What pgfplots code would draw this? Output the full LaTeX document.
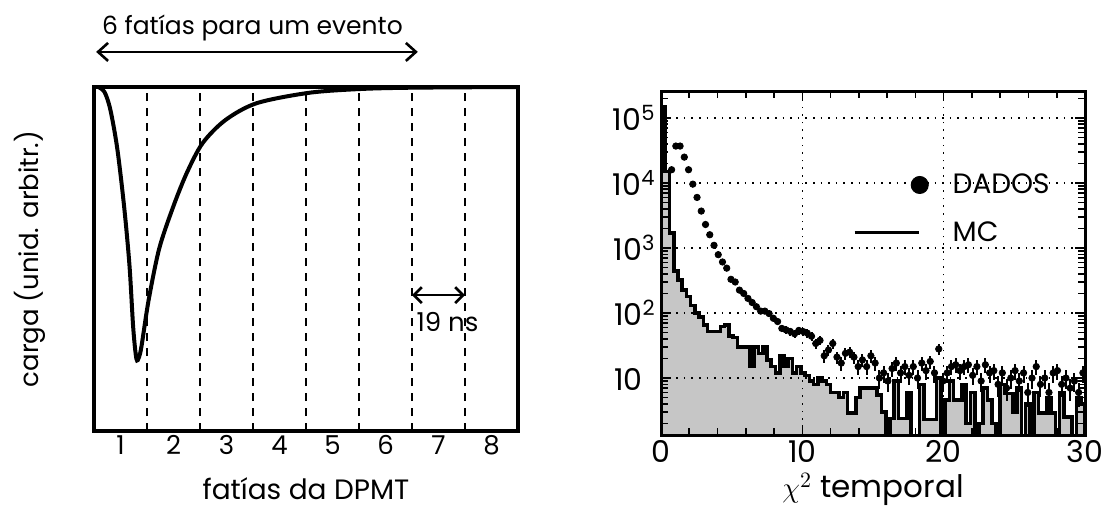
\documentclass[border=0pt]{standalone}
\usepackage{fontspec}
\setmainfont{Poppins}
\usepackage{pgfplots}
\usepackage{pgfplotstable}
\pgfplotsset{compat=1.18}
\usetikzlibrary{arrows.meta}

\pgfplotstableread{
x y
0.0 150000
0.3 15000
0.6 1700
0.9 440
1.2 320
1.5 225
1.8 180
2.1 130
2.4 100
2.7 87
3.0 66
3.3 52
3.6 52
3.9 52
4.2 62
4.5 66
4.8 44
5.1 42
5.4 30
5.7 30
6.0 30
6.3 15
6.6 30
6.9 24
7.2 30
7.5 19
7.8 15
8.1 12
8.4 22
8.7 15
9.0 20
9.3 12
9.6 15
9.9 12
10.2 11
10.5 9
10.8 8
11.1 10
11.4 9
11.7 8
12.0 6
12.3 6
12.6 5
12.9 6
13.2 2.9
13.5 2.9
13.8 5
14.1 7
14.4 7
14.7 7
15.0 7
15.3 5.5
15.6 3
15.9 1
16.2 2.4
16.5 9
16.8 2.4
17.1 2.4
17.4 6
17.7 1
18.0 1
18.3 8
18.6 2.3
18.9 2.3
19.2 2.3
19.5 10
19.8 1
20.1 4.6
20.4 9
20.7 4.6
21.0 4.6
21.3 8
21.6 2
21.9 6
22.2 1
22.5 2
22.8 7
23.1 4.6
23.4 2
23.7 1
24.0 8
24.3 5.8
24.6 5.8
24.9 3
25.2 7
25.5 1
25.8 4
26.1 1
26.4 6
26.7 2.9
27.0 2.9
27.3 5
27.6 2.9
27.9 1
28.2 6
28.5 2.5
28.8 2.5
29.1 1
29.4 5
29.7 4
30.0 4
}\mcdata

\pgfplotstableread{
x y e
0.75 16000 0
1.05 37000 0
1.35 37000 0
1.65 25000 0
1.95 16000 0
2.25 9600 0
2.55 6000 0
2.85 3700 0
3.15 2300 0
3.45 1600 0
3.75 1100 0
4.05 790 0
4.35 610 0
4.65 490 0
4.95 330 0
5.25 300 0
5.55 225 0
5.85 200 0
6.15 168 0
6.45 145 0
6.75 125 0
7.05 107 0
7.35 107 0
7.65 98 0
7.95 83 0
8.25 74 0
8.55 58 7.6
8.85 55 7.4
9.15 52 7.2
9.45 48 6.9
9.75 54 7.3
10.05 52 7.2
10.35 49 7
10.65 44 6.6
10.95 34 5.8
11.25 38 6.2
11.55 22 4.7
11.85 27 5.2
12.15 34 5.8
12.45 21 4.6
12.75 17 4.1
13.05 24 4.9
13.35 25 5
13.65 21 4.6
13.95 15 3.9
14.25 19 4.4
14.55 15 3.9
14.85 22 4.7
15.15 17 4.1
15.45 10 3.2
15.75 12 3.5
16.05 9 3
16.35 14 3.7
16.65 17 4.1
16.95 12 3.5
17.25 15 3.9
17.55 11 3.3
17.85 15 3.9
18.15 10 3.2
18.45 17 4.1
18.75 13 3.6
19.05 18 4.2
19.35 12 3.5
19.65 28 5.3
19.95 9 3
20.25 12 3.5
20.55 15 3.9
20.85 16 4
21.15 13 3.6
21.45 15 3.9
21.75 16 4
22.05 11 3.3
22.35 15 3.9
22.65 9 3
22.95 16 4
23.25 12 3.5
23.55 13 3.6
23.85 8 2.8
24.15 12 3.5
24.45 7 2.6
24.75 10 3.2
25.05 13 3.6
25.35 9 3
25.65 12 3.5
25.95 6 2.4
26.25 10 3.2
26.55 15 3.9
26.85 8 2.8
27.15 10 3.2
27.45 6 2.4
27.75 12 3.5
28.05 13 3.6
28.35 8 2.8
28.65 10 3.2
28.95 7 2.6
29.25 9 3
29.55 6 2.4
29.85 12 3.5
}\dadosdata

\begin{document}
\begin{tikzpicture}
\path[use as bounding box] (0,0) rectangle (551pt,258pt);
% ---------------- left panel ----------------
\begin{axis}[
  at={(47pt,42.5pt)}, anchor=south west,
  scale only axis, width=212pt, height=172pt,
  xmin=0.5, xmax=8.5, ymin=-1, ymax=0,
  axis line style={line width=1.6pt},
  xtick={1,2,3,4,5,6,7,8},
  xticklabels={1,2,3,4,5,6,7,8},
  ytick=\empty,
  major tick length=0pt,
  xticklabel style={font=\fontsize{13}{15}\selectfont, anchor=base, yshift=-11.5pt},
  extra x ticks={1.5,2.5,3.5,4.5,5.5,6.5,7.5},
  extra x tick labels={},
  extra x tick style={grid=major, major grid style={black, line width=0.7pt, dash pattern=on 4pt off 3.5pt}},
  clip=false,
  xlabel={fatías da DPMT},
  xlabel style={font=\fontsize{14}{16}\selectfont, at={(axis description cs:0.5,-0.2)}, anchor=base},
]
\addplot[black, line width=2pt, smooth] coordinates {
(0.58,0) (0.7,-0.015) (0.81,-0.067) (0.94,-0.18) (1.07,-0.35) (1.17,-0.52)
(1.24,-0.70) (1.30,-0.79) (1.35,-0.785) (1.40,-0.75) (1.53,-0.62) (1.73,-0.47)
(1.99,-0.35) (2.25,-0.25) (2.55,-0.163) (2.98,-0.096) (3.57,-0.047) (4.55,-0.017)
(5.5,-0.006) (6.5,-0.002) (8.5,0)};
\node[rotate=90, font=\fontsize{13}{15}\selectfont] at (rel axis cs:-0.151,0.5) {carga (unid. arbitr.)};
\draw[line width=1.3pt, {Straight Barb[length=5pt,width=9pt]}-{Straight Barb[length=5pt,width=9pt]}]
  (axis cs:0.54,0.102) -- (axis cs:6.61,0.102);
\node[font=\fontsize{12.5}{14}\selectfont] at (axis cs:3.49,0.172) {6 fatías para um evento};
\draw[line width=1.3pt, {Straight Barb[length=4pt,width=8pt]}-{Straight Barb[length=4pt,width=8pt]}]
  (axis cs:6.5,-0.605) -- (axis cs:7.5,-0.605);
\node[font=\fontsize{13}{15}\selectfont] at (axis cs:7.17,-0.683) {19 ns};
\end{axis}
% ---------------- right panel ----------------
\begin{axis}[
  at={(330.5pt,40.5pt)}, anchor=south west,
  scale only axis, width=212pt, height=172pt,
  xmin=0, xmax=30, ymin=1.33, ymax=2.6e5, ymode=log,
  axis on top,
  axis line style={line width=1.5pt},
  xtick={0,10,20,30}, xticklabels={0,10,20,30},
  minor xtick={2,4,6,8,12,14,16,18,22,24,26,28},
  ytick={10,100,1000,10000,100000},
  yticklabels={10\phantom{\textsuperscript{2}},10\textsuperscript{2},10\textsuperscript{3},10\textsuperscript{4},10\textsuperscript{5}},
  minor ytick={2,3,4,5,6,7,8,9,20,30,40,50,60,70,80,90,200,300,400,500,600,700,800,900,2000,3000,4000,5000,6000,7000,8000,9000,20000,30000,40000,50000,60000,70000,80000,90000,200000},
  tick align=inside, major tick length=5pt, minor tick length=3.5pt,
  every tick/.style={black, line width=0.8pt},
  grid=major, major grid style={black, line width=0.8pt, dash pattern=on 0.8pt off 3pt},
  xticklabel style={font=\fontsize{15}{17}\selectfont, anchor=base, yshift=-13.5pt},
  yticklabel style={font=\fontsize{15}{17}\selectfont, inner sep=2.5pt},
  xlabel={$\chi^2$ temporal},
  xlabel style={font=\fontsize{15.5}{17}\selectfont, at={(axis description cs:0.5,-0.182)}, anchor=base},
  legend style={draw=none, fill=none, at={(axis cs:13.58,4000)}, anchor=west, inner sep=0pt,
    row sep=8.5pt, font=\fontsize{14}{16}\selectfont, cells={anchor=west},
    /tikz/every odd column/.append style={column sep=10pt}},
]
\addplot[const plot mark left, fill=gray!45, draw=black, line width=1.8pt, forget plot]
  table[x=x, y=y] {\mcdata} \closedcycle;
\addplot[only marks, mark=*, mark size=1.6pt, black, forget plot,
  error bars/.cd, y dir=both, y explicit, x dir=both, x fixed=0.15,
  error bar style={line width=1pt}, error mark=none]
  table[x=x, y=y, y error=e] {\dadosdata};
\addlegendimage{legend image code/.code={\path[draw=none, fill=none] (0pt,0pt) -- (32pt,0pt); \fill[black] (32.5pt,0pt) circle (4.3pt);}}
\addlegendentry{DADOS}
\addlegendimage{legend image code/.code={\draw[black, line width=1.4pt] (0pt,0pt) -- (32pt,0pt);}}
\addlegendentry{MC}
\end{axis}
\end{tikzpicture}
\end{document}
